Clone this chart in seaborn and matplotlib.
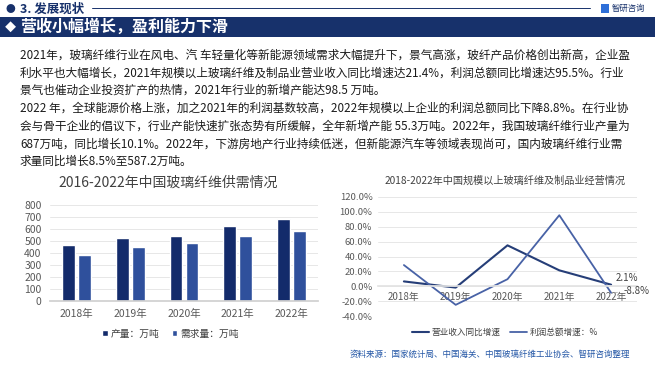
import numpy as np
import pandas as pd
import matplotlib
matplotlib.use("Agg")
import matplotlib.pyplot as plt
from matplotlib.patches import Rectangle
import seaborn as sns

# ---- data ----
YEARS = ["2018年", "2019年", "2020年", "2021年", "2022年"]
OUTPUT = [468, 527, 541, 624, 687]       # 产量：万吨
DEMAND = [380, 452, 481, 541, 587]       # 需求量：万吨
REV_GROWTH = [6.5, -1.8, 55.0, 21.4, 2.1]      # 营业收入同比增速
PROFIT_GROWTH = [28.5, -25.0, 9.5, 95.5, -8.8]  # 利润总额增速：%
Y_TICKS_L = [0, 100, 200, 300, 400, 500, 600, 700, 800]
Y_TICKS_R = [-40, -20, 0, 20, 40, 60, 80, 100, 120]

PARAGRAPH = [
    "2021年，玻璃纤维行业在风电、汽 车轻量化等新能源领域需求大幅提升下，景气高涨，玻纤产品价格创出新高，企业盈",
    "利水平也大幅增长，2021年规模以上玻璃纤维及制品业营业收入同比增速达21.4%，利润总额同比增速达95.5%。行业",
    "景气也催动企业投资扩产的热情，2021年行业的新增产能达98.5 万吨。",
    "2022 年，全球能源价格上涨，加之2021年的利润基数较高，2022年规模以上企业的利润总额同比下降8.8%。在行业协",
    "会与骨干企业的倡议下，行业产能快速扩张态势有所缓解，全年新增产能 55.3万吨。2022年，我国玻璃纤维行业产量为",
    "687万吨，同比增长10.1%。2022年，下游房地产行业持续低迷，但新能源汽车等领域表现尚可，国内玻璃纤维行业需",
    "求量同比增长8.5%至587.2万吨。",
]

NAVY = "#17316B"
BAR_DARK = "#132B6B"
BAR_LIGHT = "#2F509C"
LINE_DARK = "#263E78"
LINE_LIGHT = "#4862A6"
GRAY = "#595959"

sns.set_theme(style="white")
plt.rcParams["font.family"] = ["Noto Sans CJK SC", "DejaVu Sans"]

W, H = 660, 367
fig = plt.figure(figsize=(6.6, 3.67), dpi=100)


def fx(x):
    return x / W


def fy(y):
    return 1 - y / H


# ---- header ----
fig.text(fx(6), fy(9), "●", color=NAVY, fontsize=7, va="center")
fig.text(fx(20), fy(9), "3. 发展现状", color=NAVY, fontsize=9, weight="bold", va="center")
fig.add_artist(plt.Line2D([fx(92), fx(590)], [fy(8), fy(8)], color=NAVY, lw=0.7))
fig.add_artist(Rectangle((fx(601), fy(13)), fx(8), 9 / H, color="#2E6FD8", lw=0))
fig.text(fx(612), fy(8.5), "智研咨询", color=NAVY, fontsize=6, va="center")
fig.add_artist(Rectangle((0, fy(37)), fx(655), 20 / H, color=NAVY, lw=0))
fig.text(fx(5), fy(27), "◆", color="white", fontsize=8, va="center")
fig.text(fx(20), fy(27), "营收小幅增长，盈利能力下滑", color="white",
         fontsize=11.5, weight="bold", va="center")

# ---- paragraph ----
line_y = [55, 73, 90, 108, 126, 144, 161]
for txt, y in zip(PARAGRAPH, line_y):
    fig.text(fx(20), fy(y), txt, color="#1A1A1A", fontsize=8.4, va="center")

# ---- left chart: bars ----
df = pd.DataFrame({
    "year": YEARS * 2,
    "value": OUTPUT + DEMAND,
    "series": ["产量：万吨"] * len(YEARS) + ["需求量：万吨"] * len(YEARS),
})
ax1 = fig.add_axes([fx(50), fy(301), fx(268), 96 / H])
sns.barplot(data=df, x="year", y="value", hue="series", palette=[BAR_DARK, BAR_LIGHT],
            width=0.6, gap=0.2, ax=ax1, saturation=1)
ax1.set_ylim(0, 800)
ax1.set_yticks(Y_TICKS_L)
ax1.set_xlabel("")
ax1.set_ylabel("")
ax1.grid(axis="y", color="#E3E3E3", lw=0.6)
ax1.set_axisbelow(True)
for s in ["top", "right", "left"]:
    ax1.spines[s].set_visible(False)
ax1.spines["bottom"].set_color("#D0D0D0")
ax1.tick_params(axis="y", labelsize=7.5, colors=GRAY, pad=6, length=0)
ax1.tick_params(axis="x", labelsize=7.5, colors=GRAY, pad=6, length=0)
ax1.legend(loc="center", bbox_to_anchor=(0.45, -0.34), ncol=2, frameon=False,
           fontsize=7, handlelength=0.6, handleheight=0.6, handletextpad=0.3,
           columnspacing=1.2, labelcolor="#404040")
fig.text(fx(168), fy(183), "2016-2022年中国玻璃纤维供需情况", color="#404040",
         fontsize=10, ha="center", va="center")

# ---- right chart: lines ----
ax2 = fig.add_axes([fx(378), fy(316), fx(259), 119 / H])
sns.lineplot(x=YEARS, y=REV_GROWTH, color=LINE_DARK, lw=1.5, sort=False, ax=ax2,
             label="营业收入同比增速")
sns.lineplot(x=YEARS, y=PROFIT_GROWTH, color=LINE_LIGHT, lw=1.3, sort=False, ax=ax2,
             label="利润总额增速：%")
ax2.set_ylim(-40, 120)
ax2.set_xlim(-0.5, len(YEARS) - 0.5)
ax2.set_yticks(Y_TICKS_R)
ax2.set_yticklabels([f"{v:.1f}%" for v in Y_TICKS_R])
ax2.grid(axis="y", color="#E3E3E3", lw=0.6)
ax2.set_axisbelow(True)
for s in ["top", "right", "left"]:
    ax2.spines[s].set_visible(False)
ax2.spines["bottom"].set_position(("data", 0))
ax2.spines["bottom"].set_color("#E3E3E3")
ax2.tick_params(axis="y", labelsize=6.8, colors=GRAY, pad=4, length=0)
ax2.tick_params(axis="x", labelsize=7, colors=GRAY, pad=4, length=0)
ax2.annotate(f"{REV_GROWTH[-1]:.1f}%", xy=(4, REV_GROWTH[-1]), xytext=(3, 5),
             textcoords="offset points", fontsize=7, color="#404040", va="center")
ax2.annotate(f"{PROFIT_GROWTH[-1]:.1f}%", xy=(4, PROFIT_GROWTH[-1]), xytext=(9, 1.5),
             textcoords="offset points", fontsize=7, color="#404040", va="center",
             arrowprops=dict(arrowstyle="-", color="#A0A0A0", lw=0.5))
ax2.legend(loc="center", bbox_to_anchor=(0.49, -0.14), ncol=2, frameon=False,
           fontsize=6.2, handlelength=2.0, handletextpad=0.3, columnspacing=1.0,
           labelcolor="#404040")
fig.text(fx(505), fy(181), "2018-2022年中国规模以上玻璃纤维及制品业经营情况", color="#404040",
         fontsize=7.3, ha="center", va="center")

fig.text(fx(350), fy(354), "资料来源：国家统计局、中国海关、中国玻璃纤维工业协会、智研咨询整理",
         color="#2457A6", fontsize=6.1, va="center")

fig.savefig("out.png", dpi=100)
